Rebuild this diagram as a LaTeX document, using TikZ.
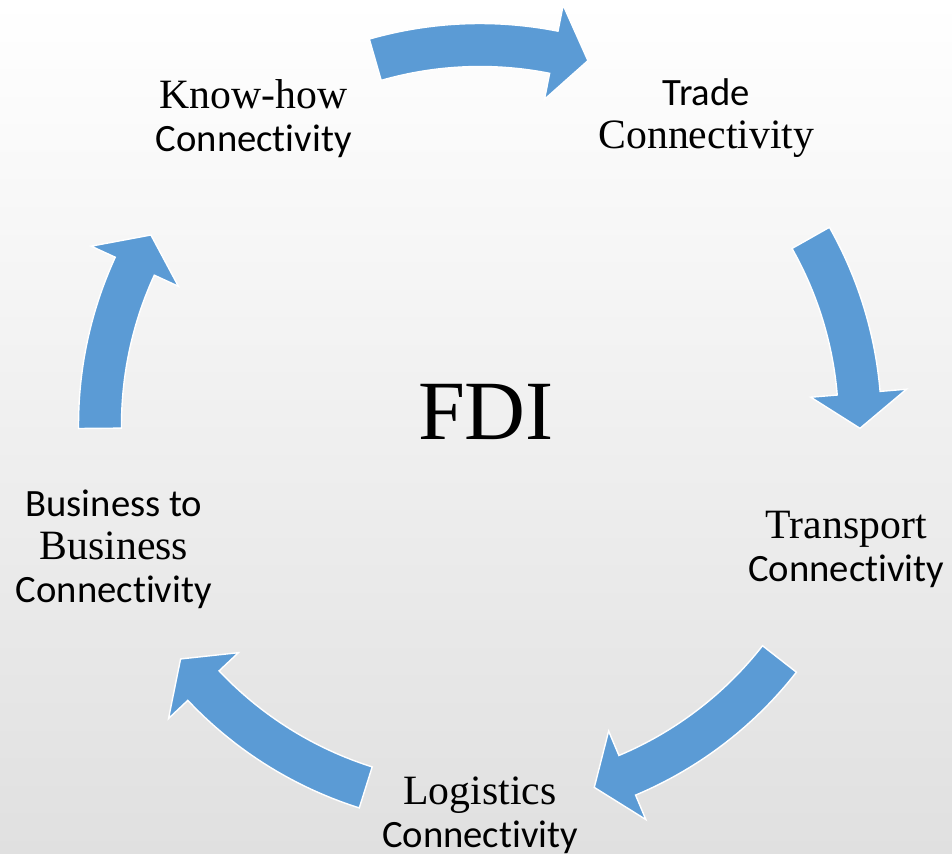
\documentclass[tikz,border=0pt]{standalone}
\usepackage{fontspec}
\setmainfont{Liberation Serif}
\setsansfont{Carlito}[Ligatures=NoCommon]
\newfontfamily\stageserif{Liberation Serif}[Scale=1.08]
\definecolor{cycleblue}{HTML}{5B9BD5}
\definecolor{bgbottom}{HTML}{E0E0E0}

\begin{document}
\begin{tikzpicture}[
    x=0.02cm, y=0.02cm,
    every node/.style={align=center, inner sep=0pt},
    stage/.style={font=\fontsize{22}{24.5}\selectfont\stageserif, yshift=-0.1cm},
    hub/.style={font=\fontsize{48}{54}\selectfont},
    cyclearrow/.style={fill=cycleblue, draw=white, line width=0.8pt, line join=miter}
]

% background
\shade[top color=white, bottom color=bgbottom] (0,0) rectangle (952,-854);
\useasboundingbox (0,0) rectangle (952,-854);

\begin{scope}[shift={(480,-425)}]
% curved block arrows: tail angle / tip angle
\foreach \a/\b in {106/73.5, 29.5/-0.5, -38/-72.5, -107.5/-142, 180.5/150}{
  \draw[cyclearrow] ({\a}:401.5) arc[start angle=\a, end angle=\b+5.3, radius=401.5]
    -- ({\b+5.3}:428) -- ({\b}:380) -- ({\b+5.3}:332) -- ({\b+5.3}:358.5)
    arc[start angle=\b+5.3, end angle=\a, radius=358.5] -- cycle;
}

\node[stage] (knowhow)   at (126:385) {Know-how\\{\sffamily Connectivity}};
\node[stage] (trade)     at (54:385)  {{\sffamily Trade}\\Connectivity};
\node[stage] (transport) at (-18:385) {Transport\\{\sffamily Connectivity}};
\node[stage] (logistics) at (-90:385) {Logistics\\{\sffamily Connectivity}};
\node[stage] (business)  at (198:385) {{\sffamily Business to}\\Business\\{\sffamily Connectivity}};
\node[hub]   (fdi)       at (6,13)    {FDI};
\end{scope}

\end{tikzpicture}
\end{document}
